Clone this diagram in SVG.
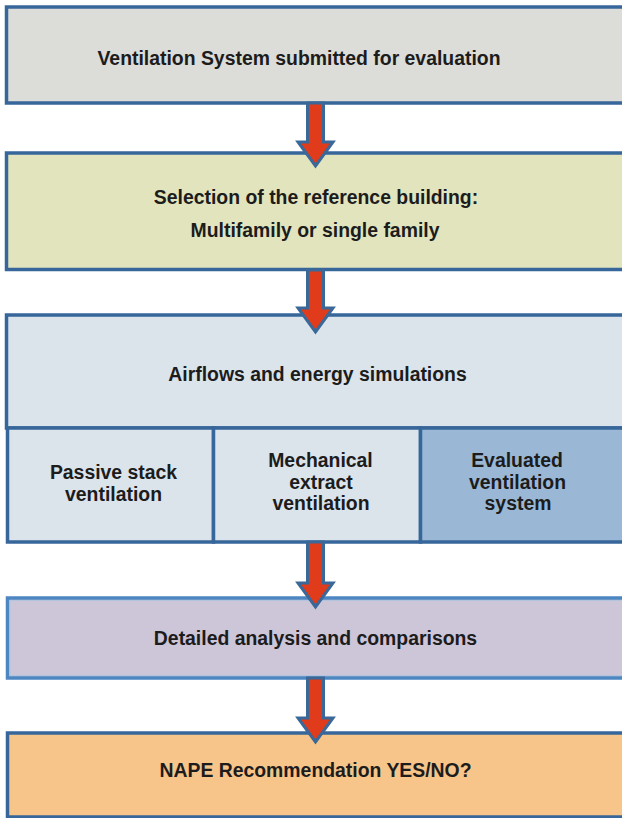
<svg xmlns="http://www.w3.org/2000/svg" width="622" height="818" viewBox="0 0 622 818">
<style>
.box{stroke:#37679a;stroke-width:3.5}
.t{font-family:"Liberation Sans",Arial,sans-serif;font-weight:bold;font-size:19.4px;fill:#1c1c1c;text-anchor:middle}
.arr{fill:#e03b1b;stroke:#3a6898;stroke-width:3;stroke-linejoin:miter}
</style>
<rect width="622" height="818" fill="#ffffff"/>
<g id="n1">
<rect class="box" x="6.5" y="7" width="640" height="96" fill="#dcdcd8"/>
<text class="t" x="299" y="65">Ventilation System submitted for evaluation</text>
</g>
<g id="n2">
<rect class="box" x="6.5" y="153" width="640" height="116.5" fill="#e2e4bd"/>
<text class="t" x="316" y="204">Selection of the reference building:</text>
<text class="t" x="315" y="237">Multifamily or single family</text>
</g>
<g id="n3">
<rect class="box" x="6.5" y="315" width="640" height="113" fill="#dbe3eb"/>
<text class="t" x="317.5" y="381">Airflows and energy simulations</text>
</g>
<g id="n3a">
<rect class="box" x="7.5" y="428" width="206" height="114" fill="#dbe3eb"/>
<text class="t" x="113.5" y="479">Passive stack</text>
<text class="t" x="113.5" y="500.5">ventilation</text>
</g>
<g id="n3b">
<rect class="box" x="213.5" y="428" width="207" height="114" fill="#dbe3eb"/>
<text class="t" x="320.5" y="467">Mechanical</text>
<text class="t" x="321" y="488.5">extract</text>
<text class="t" x="321" y="510">ventilation</text>
</g>
<g id="n3c">
<rect class="box" x="420.5" y="428" width="226" height="114" fill="#9ab8d6"/>
<text class="t" x="517" y="467">Evaluated</text>
<text class="t" x="517.5" y="488.5">ventilation</text>
<text class="t" x="518" y="510">system</text>
</g>
<g id="n4">
<rect x="7.5" y="598" width="640" height="80" fill="#cdc5d8" stroke="#4d87c2" stroke-width="3.5"/>
<rect x="10" y="600.5" width="640" height="75" fill="none" stroke="#b3c5de" stroke-width="1"/>
<text class="t" x="315.5" y="645">Detailed analysis and comparisons</text>
</g>
<g id="n5">
<rect class="box" x="7.5" y="733" width="640" height="84" fill="#f7c48a"/>
<text class="t" x="315.5" y="777">NAPE Recommendation YES/NO?</text>
</g>
<g id="connectors">
<path class="arr" d="M307.5,103 L323.5,103 L323.5,142 L333,142 L315.5,166 L298,142 L307.5,142 Z"/>
<path class="arr" d="M307.5,270 L323.5,270 L323.5,308 L333,308 L315.5,332 L298,308 L307.5,308 Z"/>
<path class="arr" d="M307.5,542 L323.5,542 L323.5,583 L333,583 L315.5,607 L298,583 L307.5,583 Z"/>
<path class="arr" d="M307.5,678 L323.5,678 L323.5,718 L333,718 L315.5,742 L298,718 L307.5,718 Z"/>
</g>
</svg>
